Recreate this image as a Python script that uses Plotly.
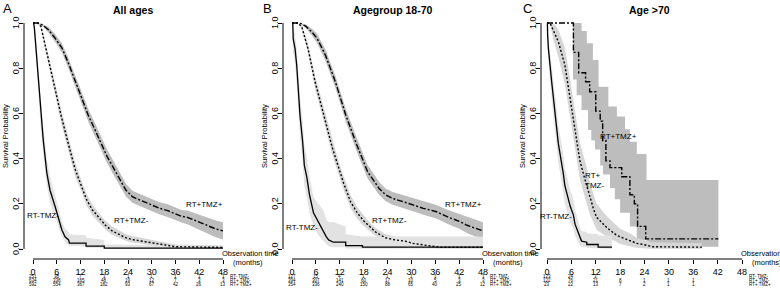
import plotly.graph_objects as go

W, H = 780, 290

# ---------------- data ----------------
month_ticks = [0, 6, 12, 18, 24, 30, 36, 42, 48]
surv_ticks = [0.0, 0.2, 0.4, 0.6, 0.8, 1.0]
surv_tick_text = ["0.0", "0.2", "0.4", "0.6", "0.8", "1.0"]
risk_row_labels = ["RT- TMZ-", "RT+ TMZ-", "RT+ TMZ+"]
panel_titles = ["All ages", "Agegroup 18-70", "Age >70"]
panel_letters = ["A", "B", "C"]

# Panel A - All ages
A1_t = [0, 0.15, 0.35, 0.76, 1.35, 1.95, 2.6, 3.5, 4.3, 5.6, 6.3, 7.3, 8.1, 9.0, 9.2, 13.4, 13.4, 18.0, 18.0, 48]
A1_s = [1, 1, 0.977, 0.888, 0.74, 0.593, 0.48, 0.336, 0.26, 0.187, 0.143, 0.084, 0.054, 0.04, 0.026, 0.026, 0.013, 0.013, 0.004, 0.004]
A1_up = [1, 1, 1.0, 0.93, 0.79, 0.65, 0.54, 0.40, 0.32, 0.24, 0.19, 0.12, 0.09, 0.075, 0.065, 0.06, 0.05, 0.04, 0.02, 0.015]
A1_lo = [1, 1, 0.95, 0.84, 0.69, 0.535, 0.42, 0.28, 0.205, 0.14, 0.1, 0.055, 0.03, 0.02, 0.014, 0.012, 0.005, 0.005, 0.001, 0.001]

A2_t = [0, 1.2, 2.0, 3.2, 5.2, 7.1, 9.0, 10.7, 12.2, 13.5, 14.9, 16.5, 18.3, 20.0, 22.1, 23.4, 25.0, 27.2, 30.1, 33.9, 36.0, 48]
A2_s = [1, 1, 0.985, 0.89, 0.74, 0.59, 0.46, 0.35, 0.28, 0.22, 0.175, 0.14, 0.105, 0.08, 0.062, 0.05, 0.042, 0.036, 0.025, 0.017, 0.01, 0.007]
A2_up = [1, 1, 0.995, 0.91, 0.765, 0.62, 0.49, 0.38, 0.305, 0.245, 0.2, 0.162, 0.125, 0.1, 0.08, 0.066, 0.057, 0.05, 0.038, 0.028, 0.02, 0.016]
A2_lo = [1, 1, 0.975, 0.87, 0.715, 0.56, 0.43, 0.32, 0.255, 0.195, 0.15, 0.118, 0.085, 0.062, 0.046, 0.036, 0.029, 0.024, 0.015, 0.008, 0.004, 0.002]

A3_t = [0, 1.35, 2.5, 3.9, 5.5, 7.3, 9.0, 10.7, 12.3, 14.0, 15.6, 17.2, 18.7, 20.3, 22.1, 23.5, 25.2, 28.0, 30.3, 32.0, 34.0, 36.0, 37.5, 39.0, 41.0, 43.0, 44.5, 46.0, 48.0]
A3_s = [1, 1, 0.99, 0.97, 0.935, 0.89, 0.82, 0.74, 0.665, 0.59, 0.53, 0.47, 0.41, 0.36, 0.30, 0.26, 0.23, 0.21, 0.19, 0.18, 0.17, 0.155, 0.145, 0.14, 0.125, 0.11, 0.10, 0.09, 0.08]
A3_up = [1, 1, 0.995, 0.982, 0.952, 0.91, 0.843, 0.765, 0.692, 0.618, 0.559, 0.5, 0.44, 0.39, 0.329, 0.288, 0.257, 0.237, 0.217, 0.207, 0.198, 0.183, 0.173, 0.17, 0.157, 0.143, 0.135, 0.127, 0.118]
A3_lo = [1, 1, 0.985, 0.958, 0.918, 0.87, 0.797, 0.715, 0.638, 0.562, 0.501, 0.44, 0.38, 0.33, 0.271, 0.232, 0.203, 0.183, 0.163, 0.153, 0.142, 0.127, 0.117, 0.11, 0.093, 0.077, 0.065, 0.053, 0.042]

A_risk1 = [251, 38, 7, 1, 1, 1, 1, 1, 1]
A_risk2 = [634, 338, 165, 48, 19, 12, 7, 3, 3]
A_risk3 = [592, 554, 367, 182, 93, 67, 42, 26, 13]

# Panel B - Agegroup 18-70
B1_t = [0, 0.2, 0.3, 0.76, 1.2, 2.0, 2.7, 3.1, 3.7, 4.4, 5.4, 6.7, 7.9, 8.6, 9.2, 10.4, 13.5, 13.5, 17.7, 17.7, 48]
B1_s = [1, 1, 0.93, 0.888, 0.81, 0.593, 0.47, 0.37, 0.32, 0.24, 0.16, 0.115, 0.08, 0.055, 0.04, 0.03, 0.03, 0.015, 0.015, 0.008, 0.008]
B1_up = [1, 1, 0.98, 0.95, 0.88, 0.68, 0.56, 0.46, 0.41, 0.32, 0.23, 0.2, 0.17, 0.13, 0.12, 0.12, 0.1, 0.065, 0.058, 0.055, 0.055]
B1_lo = [1, 1, 0.87, 0.82, 0.73, 0.5, 0.38, 0.28, 0.23, 0.16, 0.1, 0.06, 0.035, 0.02, 0.012, 0.008, 0.008, 0.002, 0.002, 0.001, 0.001]

B2_t = [0, 1.6, 2.5, 4.0, 5.8, 7.95, 10.1, 11.0, 12.2, 13.0, 14.7, 16.4, 18.0, 19.4, 21.0, 23.4, 26.0, 28.4, 30.4, 33.0, 35.5, 37.0, 48]
B2_s = [1, 1, 0.98, 0.888, 0.74, 0.593, 0.45, 0.40, 0.33, 0.29, 0.21, 0.16, 0.125, 0.1, 0.075, 0.05, 0.04, 0.035, 0.025, 0.018, 0.013, 0.008, 0.008]
B2_up = [1, 1, 0.99, 0.91, 0.768, 0.625, 0.482, 0.432, 0.362, 0.32, 0.238, 0.186, 0.148, 0.12, 0.093, 0.066, 0.054, 0.048, 0.037, 0.028, 0.022, 0.016, 0.014]
B2_lo = [1, 1, 0.97, 0.866, 0.712, 0.561, 0.418, 0.368, 0.298, 0.26, 0.182, 0.134, 0.102, 0.08, 0.057, 0.034, 0.026, 0.022, 0.013, 0.008, 0.004, 0.002, 0.002]

B3_t = [0, 2.0, 3.5, 5.0, 6.3, 8.4, 10.9, 13.5, 16.3, 17.5, 19.0, 21.9, 23.5, 25.3, 28.0, 30.4, 33.0, 36.3, 39.0, 42.2, 44.0, 46.5, 48]
B3_s = [1, 1, 0.985, 0.96, 0.932, 0.858, 0.74, 0.593, 0.46, 0.41, 0.342, 0.268, 0.24, 0.224, 0.21, 0.195, 0.18, 0.165, 0.143, 0.121, 0.105, 0.09, 0.08]
B3_up = [1, 1, 0.993, 0.975, 0.952, 0.883, 0.767, 0.621, 0.49, 0.44, 0.372, 0.297, 0.268, 0.252, 0.238, 0.223, 0.209, 0.195, 0.174, 0.154, 0.14, 0.127, 0.118]
B3_lo = [1, 1, 0.977, 0.945, 0.912, 0.833, 0.713, 0.565, 0.43, 0.38, 0.312, 0.239, 0.212, 0.196, 0.182, 0.167, 0.151, 0.135, 0.112, 0.088, 0.07, 0.053, 0.042]

B_risk1 = [127, 15, 4, 1, 1, 1, 1, 1, 1]
B_risk2 = [394, 307, 141, 60, 17, 10, 5, 3, 3]
B_risk3 = [354, 336, 240, 150, 88, 65, 40, 25, 12]

# Panel C - Age >70
C1_t = [0, 0.1, 0.15, 0.33, 1.15, 1.97, 2.8, 4.0, 4.4, 5.7, 6.5, 6.9, 7.3, 8.0, 8.5, 9.8, 9.8, 12.6, 12.6, 16.0]
C1_s = [1, 1, 0.95, 0.888, 0.74, 0.593, 0.465, 0.336, 0.28, 0.19, 0.15, 0.11, 0.092, 0.054, 0.035, 0.03, 0.02, 0.02, 0.008, 0.008]
C1_up = [1, 1, 1.0, 0.94, 0.81, 0.68, 0.55, 0.42, 0.36, 0.26, 0.22, 0.17, 0.15, 0.1, 0.08, 0.075, 0.07, 0.065, 0.06, 0.06]
C1_lo = [1, 1, 0.9, 0.83, 0.66, 0.51, 0.38, 0.25, 0.2, 0.12, 0.09, 0.06, 0.045, 0.02, 0.01, 0.008, 0.004, 0.004, 0.001, 0.001]

C2_t = [0, 0.74, 1.5, 2.8, 4.4, 5.7, 6.9, 7.3, 8.1, 9.0, 9.8, 10.6, 11.4, 12.2, 14.7, 17.2, 18.0, 20.4, 22.1, 23.7, 26.0, 38.1]
C2_s = [1, 1, 0.97, 0.917, 0.814, 0.667, 0.519, 0.482, 0.39, 0.33, 0.28, 0.22, 0.18, 0.14, 0.095, 0.06, 0.054, 0.038, 0.025, 0.02, 0.01, 0.008]
C2_up = [1, 1, 1.0, 0.97, 0.89, 0.75, 0.6, 0.56, 0.47, 0.41, 0.36, 0.29, 0.245, 0.2, 0.145, 0.1, 0.09, 0.07, 0.05, 0.04, 0.03, 0.025]
C2_lo = [1, 1, 0.93, 0.85, 0.73, 0.58, 0.43, 0.4, 0.31, 0.25, 0.2, 0.15, 0.12, 0.085, 0.055, 0.028, 0.022, 0.012, 0.005, 0.003, 0.001, 0.001]

C3_t = [0, 6.5, 7.8, 9.5, 10.5, 12.0, 13.1, 13.7, 14.5, 15.5, 18.4, 20.4, 21.5, 22.3, 24.3, 42.2]
C3_s = [1, 0.87, 0.78, 0.74, 0.696, 0.61, 0.565, 0.48, 0.39, 0.36, 0.32, 0.24, 0.20, 0.10, 0.045, 0.045]
C3_band_t = [6.4, 7.3, 8.5, 9.8, 10.1, 10.9, 11.3, 11.8, 12.7, 13.1, 13.8, 15.1, 15.5, 16.7, 17.2, 18.0, 19.2, 20.4, 22.1, 24.5, 42.2]
C3_up = [1.0, 1.0, 0.965, 0.91, 0.91, 0.91, 0.836, 0.836, 0.718, 0.718, 0.718, 0.63, 0.63, 0.63, 0.586, 0.586, 0.53, 0.475, 0.42, 0.305, 0.305]
C3_lo = [0.75, 0.68, 0.615, 0.615, 0.527, 0.48, 0.48, 0.44, 0.44, 0.37, 0.33, 0.33, 0.27, 0.22, 0.22, 0.16, 0.16, 0.10, 0.04, 0.01, 0.01]

C_risk1 = [123, 24, 3, "", "", "", "", "", ""]
C_risk2 = [122, 76, 21, 8, 1, 1, 1, "", ""]
C_risk3 = [23, 22, 13, 7, 2, 1, 1, "", ""]

# ---------------- styling ----------------
FONT = "Liberation Sans Narrow, Arial Narrow, Liberation Sans, Arial, sans-serif"
DARK_BAND = "#bdbdbd"
MID_BAND = "#d6d6d6"
LIGHT_BAND = "#e2e2e2"
DOT = "2px,2px"
DASHDOT = "6px,2px,2px,2px"

# pixel layout of each panel: (x of 0 month, x of 48 months, x of y-axis line, right edge)
panels_px = [
    (33, 223, 24, 228),
    (292, 483, 283, 488),
    (547, 742, 541, 747),
]
PY_TOP, PY_ONE, PY_ZERO, PY_AXIS = 20, 23, 249, 259
pps = (PY_ZERO - PY_ONE)  # pixels per unit survival
y_range = [-(PY_AXIS - PY_ZERO) / pps, 1 + (PY_ONE - PY_TOP) / pps]
y_domain = [1 - PY_AXIS / H, 1 - PY_TOP / H]


def py2paper(py):
    return 1 - py / H


panel_data = [
    dict(curves=[(A1_t, A1_s, A1_up, A1_lo), (A2_t, A2_s, A2_up, A2_lo), (A3_t, A3_s, A3_up, A3_lo)],
         risk=[A_risk1, A_risk2, A_risk3],
         labels=[("RT-TMZ-", 2.6, 0.148, "center"), ("RT+TMZ-", 24.9, 0.128, "center"), ("RT+TMZ+", 43.2, 0.196, "center")]),
    dict(curves=[(B1_t, B1_s, B1_up, B1_lo), (B2_t, B2_s, B2_up, B2_lo), (B3_t, B3_s, B3_up, B3_lo)],
         risk=[B_risk1, B_risk2, B_risk3],
         labels=[("RT-TMZ-", 2.5, 0.097, "center"), ("RT+TMZ-", 24.5, 0.128, "center"), ("RT+TMZ+", 43.0, 0.198, "center")]),
    dict(curves=[(C1_t, C1_s, C1_up, C1_lo), (C2_t, C2_s, C2_up, C2_lo), None],
         risk=[C_risk1, C_risk2, C_risk3],
         labels=[("RT-TMZ-", 2.2, 0.146, "center"), ("RT+<br>TMZ-", 11.7, 0.305, "center"), ("RT+TMZ+", 17.5, 0.496, "center")]),
]

fig = go.Figure()
annotations = []
shapes = []
band_colors = [LIGHT_BAND, MID_BAND, DARK_BAND]
line_styles = [dict(color="black", width=1.3), dict(color="black", width=1.4, dash=DOT),
               dict(color="black", width=1.4, dash=DASHDOT)]

for i, (p, pdat) in enumerate(zip(panels_px, panel_data)):
    px0, px48, pxy, pxr = p
    k = (px48 - px0) / 48.0
    xr = [(pxy - px0) / k, (pxr - px0) / k]
    sfx = "" if i == 0 else str(i + 1)
    xa, ya = "x" + sfx, "y" + sfx
    fig.layout["xaxis" + sfx] = dict(
        domain=[pxy / W, pxr / W], range=xr, anchor=ya, showgrid=False, zeroline=False, automargin=False,
        showline=False, tickmode="array", tickvals=month_ticks, ticktext=[str(m) for m in month_ticks],
        ticks="outside", ticklen=4, tickwidth=1, tickcolor="black",
        tickfont=dict(family=FONT, size=9, color="black"), fixedrange=True)
    fig.layout["yaxis" + sfx] = dict(
        domain=y_domain, range=y_range, anchor=xa, showgrid=False, zeroline=False, showline=False,
        automargin=False, showticklabels=False,
        tickmode="array", tickvals=surv_ticks,
        ticks="outside", ticklen=4, tickwidth=1, tickcolor="black", fixedrange=True)

    # y tick labels, rotated like R's default
    for v, txt in zip(surv_ticks, surv_tick_text):
        annotations.append(dict(text=txt, x=(pxy - 8) / W, y=v, xref="paper", yref=ya, showarrow=False,
                                xanchor="center", yanchor="middle", textangle=-90,
                                font=dict(family=FONT, size=9, color="black")))

    # bands (dark first so lighter ones sit on top)
    order = [2, 1, 0]
    for j in order:
        c = pdat["curves"][j]
        if c is None:
            fig.add_trace(go.Scatter(x=C3_band_t, y=C3_lo, xaxis=xa, yaxis=ya, mode="lines",
                                     line=dict(width=0, shape="hv"), showlegend=False, hoverinfo="skip"))
            fig.add_trace(go.Scatter(x=C3_band_t, y=C3_up, xaxis=xa, yaxis=ya, mode="lines",
                                     line=dict(width=0, shape="hv"), fill="tonexty", fillcolor=DARK_BAND,
                                     showlegend=False, hoverinfo="skip"))
            continue
        t, s, up, lo = c
        fig.add_trace(go.Scatter(x=t, y=lo, xaxis=xa, yaxis=ya, mode="lines", line=dict(width=0),
                                 showlegend=False, hoverinfo="skip"))
        fig.add_trace(go.Scatter(x=t, y=up, xaxis=xa, yaxis=ya, mode="lines", line=dict(width=0),
                                 fill="tonexty", fillcolor=band_colors[j], showlegend=False, hoverinfo="skip"))
    # lines
    for j in range(3):
        c = pdat["curves"][j]
        if c is None:
            fig.add_trace(go.Scatter(x=C3_t, y=C3_s, xaxis=xa, yaxis=ya, mode="lines",
                                     line=dict(line_styles[j], shape="hv"), showlegend=False))
        else:
            fig.add_trace(go.Scatter(x=c[0], y=c[1], xaxis=xa, yaxis=ya, mode="lines",
                                     line=line_styles[j], showlegend=False))

    # axis lines (R style, detached)
    shapes.append(dict(type="line", xref=xa, yref="paper", x0=0, x1=48, y0=py2paper(PY_AXIS), y1=py2paper(PY_AXIS),
                       line=dict(color="black", width=1)))
    shapes.append(dict(type="line", xref="paper", yref=ya, x0=pxy / W, x1=pxy / W, y0=0, y1=1,
                       line=dict(color="black", width=1)))

    # curve labels
    for (txt, lx, ly, anc) in pdat["labels"]:
        annotations.append(dict(text=txt, x=lx, y=ly, xref=xa, yref=ya, showarrow=False, xanchor=anc,
                                yanchor="middle", font=dict(family=FONT, size=8, color="black"),
                                bgcolor="rgba(0,0,0,0)", align="left"))

    # titles
    cx = (px0 + px48) / 2 + 5
    annotations.append(dict(text="<b>" + panel_titles[i] + "</b>", x=cx / W, y=py2paper(10), xref="paper",
                            yref="paper", showarrow=False, xanchor="center", yanchor="middle",
                            font=dict(family=FONT, size=10.5, color="black")))
    annotations.append(dict(text=panel_letters[i], x=(i * 260 + 0.5) / W, y=py2paper(8), xref="paper",
                            yref="paper", showarrow=False, xanchor="left", yanchor="middle",
                            font=dict(family="Liberation Sans, Arial, sans-serif", size=13, color="black")))
    annotations.append(dict(text="Survival Probability", x=(pxy - 19) / W, y=py2paper(136), xref="paper",
                            yref="paper", showarrow=False, xanchor="center", yanchor="middle", textangle=-90,
                            font=dict(family=FONT, size=7.5, color="black")))
    annotations.append(dict(text="Observation time", x=(px48 - 3) / W, y=py2paper(253), xref="paper",
                            yref="paper", showarrow=False, xanchor="left", yanchor="middle",
                            font=dict(family=FONT, size=7.5, color="black")))
    annotations.append(dict(text="(months)", x=(px48 + 8) / W, y=py2paper(262), xref="paper",
                            yref="paper", showarrow=False, xanchor="left", yanchor="middle",
                            font=dict(family=FONT, size=7.5, color="black")))
    # numbers at risk
    row_py = [276.7, 280.7, 284.7]
    for r in range(3):
        for m, v in zip(month_ticks, pdat["risk"][r]):
            if v == "":
                continue
            annotations.append(dict(text=str(v), x=m, y=py2paper(row_py[r]), xref=xa, yref="paper",
                                    showarrow=False, xanchor="center", yanchor="middle",
                                    font=dict(family=FONT, size=4.5, color="black")))
        annotations.append(dict(text=risk_row_labels[r], x=(px48 + 5) / W, y=py2paper(row_py[r]), xref="paper",
                                yref="paper", showarrow=False, xanchor="left", yanchor="middle",
                                font=dict(family=FONT, size=4.5, color="black")))

fig.update_layout(template="none", width=W, height=H, margin=dict(l=0, r=0, t=0, b=0, pad=0), autosize=False,
                  paper_bgcolor="white", plot_bgcolor="white", annotations=annotations, shapes=shapes,
                  showlegend=False, font=dict(family=FONT, color="black"))
fig.write_html("out.html", config={"displayModeBar": False, "staticPlot": True},
               post_script="document.body.style.margin='0';document.body.style.overflow='hidden';")
